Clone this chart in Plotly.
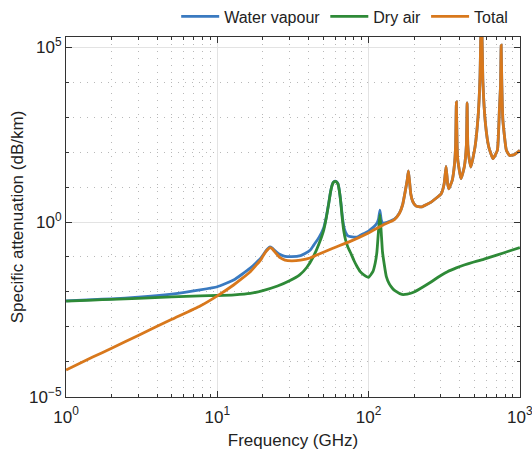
import numpy as np
import plotly.graph_objects as go

# ---- data (attenuation given as log10 of dB/km) ----
blue_freq = [1, 1.5, 2, 3, 5, 7.7, 10, 12.8, 14.5, 16.5, 18, 19.3, 20, 21, 21.7, 22.235, 23, 24.5,
             26, 28, 31, 35.5, 38, 41, 43.4, 47, 50.5, 52.5, 54.5, 56, 57.3, 58.5, 60, 61.5,
             62.8, 64, 65.5, 67, 68.5, 70.3, 73, 76, 80, 84, 93,
             100, 106.7, 110.5, 113.5, 116.5, 118.75, 121, 123.5, 127, 131,
             148, 160, 168, 175, 180, 183.31, 186.5, 190, 196, 205, 223, 259, 302, 316, 325.15, 333,
             339, 357, 370, 376, 380.2, 384.5, 389, 408, 429, 443, 448, 452.5, 460, 474,
             505, 531, 545, 556.9, 569, 592, 623, 664, 710, 732, 745, 752, 760, 772, 814,
             856, 923, 1000]
blue_log10 = [-2.255, -2.22, -2.195, -2.15, -2.06, -1.94, -1.85, -1.66, -1.50, -1.32, -1.17,
              -1.04, -0.95, -0.82, -0.75, -0.71, -0.74, -0.85, -0.93, -0.98, -0.99, -0.96, -0.90,
              -0.81, -0.66, -0.44, -0.16, 0.14, 0.54, 0.86, 1.05, 1.14, 1.17, 1.15, 1.09, 0.91,
              0.57, 0.16, -0.12, -0.29, -0.40, -0.42, -0.43, -0.43, -0.33,
              -0.26, -0.16, -0.10, -0.03, 0.10, 0.34, 0.08, -0.04, -0.03, -0.02,
              0.08, 0.26, 0.50, 0.90, 1.20, 1.46, 1.15, 0.80, 0.58, 0.46, 0.43, 0.57, 0.81, 1.10,
              1.59, 1.10, 0.95, 1.19, 1.67, 2.20, 3.43, 2.20, 1.76, 1.24, 1.57, 2.20, 3.40, 2.20,
              1.86, 1.57, 2.14, 3.09, 4.14, 6.20, 4.05, 2.81, 2.14, 1.81, 2.05, 3.20, 3.90, 5.05,
              3.90, 2.91, 2.05, 1.90, 1.93, 2.05]

green_freq = [1, 1.5, 2, 3, 5, 7.7, 10, 13, 16.5, 20, 25, 30, 35, 39, 43, 47, 50.5, 52.5, 54.5,
              56, 57.3, 58.5, 60, 61.5, 62.8, 64, 65.5, 67, 68.5, 70.3, 73, 76, 80, 84, 88, 93,
              100, 106.7, 110.5, 113.5, 116.5, 118.75, 121, 123.5, 127, 131, 137, 144, 150, 166,
              180, 200, 230, 257, 300, 332, 380, 428, 490, 552, 630, 711, 850, 1000]
green_log10 = [-2.26, -2.23, -2.21, -2.18, -2.14, -2.11, -2.10, -2.08, -2.04, -1.96, -1.83,
               -1.68, -1.51, -1.30, -1.00, -0.62, -0.23, 0.12, 0.53, 0.85, 1.04, 1.13, 1.16,
               1.14, 1.08, 0.90, 0.55, 0.10, -0.25, -0.50, -0.72, -0.88, -1.10, -1.28, -1.42,
               -1.51, -1.58, -1.42, -1.18, -0.85, -0.20, 0.22, -0.25, -0.85, -1.22, -1.56, -1.77,
               -1.90, -1.97, -2.07, -2.06, -2.00, -1.85, -1.72, -1.53, -1.42, -1.31, -1.23,
               -1.15, -1.09, -1.01, -0.94, -0.83, -0.73]

orange_freq = [1, 1.5, 2, 3, 5, 7.7, 10, 12.8, 14.5, 16.5, 18, 19.3, 20, 21, 21.7, 22.235, 23,
               24.5, 26, 28, 31, 35.5, 41, 45, 58, 75, 99, 124, 148, 160, 168, 175, 180, 183.31,
               186.5, 190, 196, 205, 223, 259, 302, 316, 325.15, 333, 339, 357, 370, 376, 380.2,
               384.5, 389, 408, 429, 443, 448, 452.5, 460, 474, 505, 531, 545, 556.9, 569, 592,
               623, 664, 710, 732, 745, 752, 760, 772, 814, 856, 923, 1000]
orange_log10 = [-4.23, -3.86, -3.61, -3.24, -2.78, -2.40, -2.11, -1.80, -1.62, -1.42, -1.24,
                -1.09, -0.98, -0.84, -0.77, -0.73, -0.76, -0.90, -1.02, -1.09, -1.11, -1.09,
                -1.03, -0.95, -0.75, -0.56, -0.32, -0.09, 0.07, 0.25, 0.50, 0.90, 1.20, 1.46,
                1.15, 0.80, 0.58, 0.46, 0.43, 0.57, 0.81, 1.10, 1.59, 1.10, 0.95, 1.19, 1.67,
                2.20, 3.43, 2.20, 1.76, 1.24, 1.57, 2.20, 3.40, 2.20, 1.86, 1.57, 2.14, 3.09,
                4.14, 6.20, 4.05, 2.81, 2.14, 1.81, 2.05, 3.20, 3.90, 5.05, 3.90, 2.91, 2.05,
                1.90, 1.93, 2.05]

legend_names = ["Water vapour", "Dry air", "Total"]
colors = ["#3a7ac0", "#2e8a37", "#d8781c"]

x_major = [1, 10, 100, 1000]
x_major_text = ["10<sup>0</sup>", "10<sup>1</sup>", "10<sup>2</sup>", "10<sup>3</sup>"]
x_minor = [m * d for d in (1, 10, 100) for m in range(2, 10)]
y_major = [1e-5, 1, 1e5]
y_major_text = ["10<sup>−5</sup>", "10<sup>0</sup>", "10<sup>5</sup>"]
y_minor = [10.0 ** k for k in (-4, -3, -2, -1, 1, 2, 3, 4)]

fig = go.Figure()
for fr, lv, name, col in [(blue_freq, blue_log10, legend_names[0], colors[0]),
                          (green_freq, green_log10, legend_names[1], colors[1]),
                          (orange_freq, orange_log10, legend_names[2], colors[2])]:
    fig.add_trace(go.Scatter(x=fr, y=np.power(10.0, lv), mode="lines", name=name,
                             line=dict(color=col, width=2.8, shape="spline", smoothing=0.4)))

axis_col = "#333333"
common = dict(type="log", showline=True, linecolor=axis_col, linewidth=1.2, mirror="allticks",
              ticks="inside", ticklen=6, tickcolor=axis_col, tickwidth=1, automargin=False,
              showgrid=True, gridcolor="#e3e3e3", gridwidth=1, zeroline=False,
              ticklabeloverflow="allow", tickfont=dict(size=17, color="#222222"))

fig.update_xaxes(**common, range=[-0.0005, 3.0008], tickmode="array", tickvals=x_major,
                 ticktext=x_major_text, ticklabelstandoff=4,
                 minor=dict(tickmode="array", tickvals=x_minor, ticks="inside", ticklen=3,
                            tickcolor=axis_col, showgrid=True, gridcolor="#b8b8b8",
                            griddash="1px,6px", gridwidth=1),
                 title=dict(text="Frequency (GHz)", font=dict(size=17, color="#222222"), standoff=8))
fig.update_yaxes(**common, range=[-5.0005, 5.286], tickmode="array", tickvals=y_major,
                 ticktext=y_major_text,
                 minor=dict(tickmode="array", tickvals=y_minor, ticks="inside", ticklen=3,
                            tickcolor=axis_col, showgrid=True, gridcolor="#b8b8b8",
                            griddash="1px,6px", gridwidth=1),
                 title=dict(text="Specific attenuation (dB/km)", font=dict(size=17, color="#222222"),
                            standoff=1))

fig.update_layout(width=532, height=455,
                  margin=dict(l=66, r=12, t=37, b=58, autoexpand=False),
                  plot_bgcolor="white", paper_bgcolor="white",
                  font=dict(family="Liberation Sans, Arial, sans-serif", size=16, color="#222222"),
                  legend=dict(orientation="h", x=0.985, xanchor="right", y=1.01, yanchor="bottom",
                              font=dict(size=16), bgcolor="rgba(0,0,0,0)", traceorder="normal",
                              itemwidth=38),
                  showlegend=True)

fig.write_html("out.html", config={"displayModeBar": False},
               post_script="document.body.style.margin='0';document.body.style.padding='0';")
